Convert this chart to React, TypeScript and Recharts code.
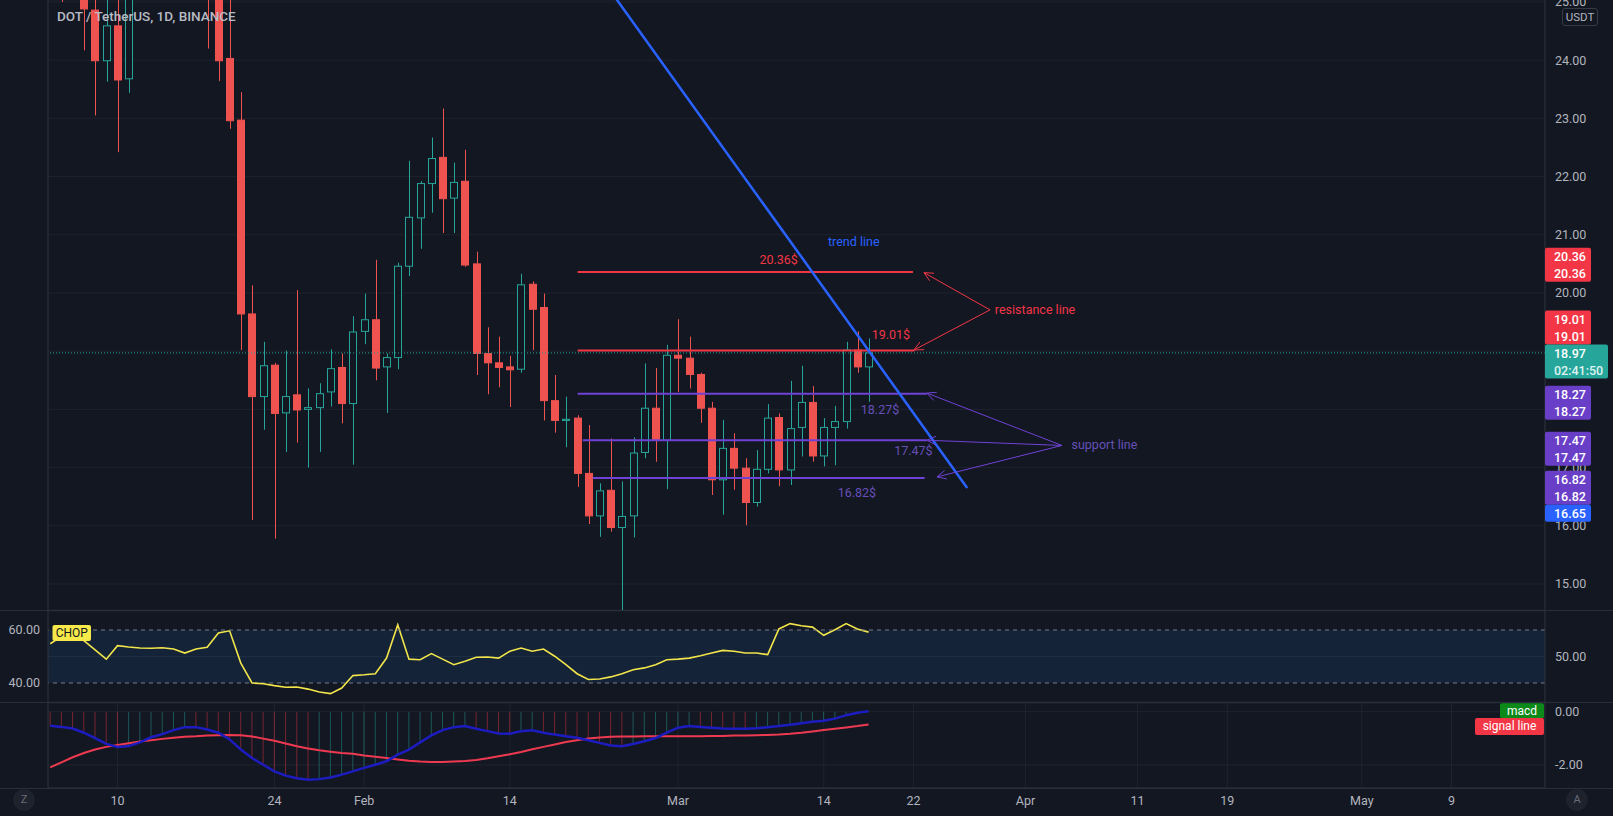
import React from "react";
import {
  ComposedChart,
  Bar,
  Line,
  XAxis,
  YAxis,
  CartesianGrid,
  ReferenceLine,
  ReferenceArea,
  ReferenceDot,
  Cell,
} from "recharts";

// day index: 0 = 1 Jan 2022, first candle is Jan 4 (day 3)
const FIRST_DAY = 3;

const OPEN = [
  28.6, 29.3, 26.9, 26.7, 24.86, 23.99, 24.59, 23.68, 26.1, 28.2,
  26.9, 27.8, 28.0, 27.9, 26.5, 25.9, 24.03, 22.97, 19.64, 18.22,
  18.76, 17.94, 18.25, 18.0, 18.03, 18.3, 18.72, 18.1, 19.34, 19.54,
  18.73, 18.89, 20.46, 21.29, 21.88, 22.33, 21.63, 21.92, 20.5, 18.96,
  18.8, 18.73, 18.69, 20.15, 19.75, 18.15, 17.81, 17.85, 16.9, 16.17,
  16.61, 15.97, 16.17, 17.26, 18.02, 17.47, 18.93, 18.88, 18.6, 18.02,
  16.79, 17.33, 16.99, 16.4, 16.97, 17.86, 16.96, 17.69, 18.12, 17.2,
  17.69, 17.79, 19.02, 18.73,
];
const HIGH = [
  29.8, 29.9, 27.3, 26.9, 25.3, 25.2, 25.25, 26.3, 28.5, 28.9,
  28.1, 28.6, 28.6, 28.0, 26.6, 26.4, 25.3, 23.45, 20.13, 19.16,
  18.8, 19.01, 20.05, 18.36, 18.45, 19.03, 18.96, 19.6, 19.99, 20.57,
  18.96, 20.52, 22.27, 21.92, 22.67, 23.17, 22.24, 22.46, 20.71, 19.41,
  19.25, 18.92, 20.33, 20.2, 19.99, 18.59, 18.22, 17.9, 17.73, 16.73,
  17.5, 16.76, 17.52, 18.79, 18.71, 19.11, 19.55, 19.25, 18.63, 18.13,
  17.82, 17.59, 17.16, 17.3, 18.09, 17.93, 18.49, 18.75, 18.4, 17.85,
  18.06, 19.16, 19.34, 19.22,
];
const LOW = [
  28.1, 25.0, 25.6, 24.17, 23.05, 23.63, 22.42, 23.44, 25.8, 26.6,
  26.2, 27.2, 27.3, 26.1, 24.2, 23.64, 22.82, 19.02, 16.1, 17.65,
  15.78, 17.27, 17.43, 17.0, 17.27, 18.05, 17.76, 17.05, 19.12, 18.5,
  17.94, 18.69, 20.29, 20.76, 21.38, 21.03, 21.03, 20.45, 18.59, 18.26,
  18.38, 18.04, 18.63, 19.02, 17.81, 17.6, 17.35, 16.67, 16.03, 15.81,
  15.9, 14.54, 15.8, 17.16, 17.1, 16.63, 18.3, 18.36, 17.77, 16.53,
  16.19, 16.62, 16.01, 16.33, 16.9, 16.68, 16.7, 17.19, 17.1, 17.02,
  17.04, 17.67, 18.63, 18.13,
];
const CLOSE = [
  29.3, 26.9, 26.7, 24.88, 23.99, 24.59, 23.66, 26.1, 28.2, 26.9,
  27.8, 28.0, 27.9, 26.5, 25.9, 23.99, 22.96, 19.64, 18.22, 18.75,
  17.93, 18.22, 17.99, 18.03, 18.27, 18.7, 18.1, 19.33, 19.54, 18.71,
  18.89, 20.46, 21.3, 21.88, 22.31, 21.62, 21.9, 20.48, 18.96, 18.8,
  18.72, 18.68, 20.14, 19.72, 18.15, 17.81, 17.83, 16.9, 16.17, 16.6,
  15.97, 16.16, 17.25, 18.02, 17.47, 18.93, 18.88, 18.6, 18.02, 16.79,
  17.33, 16.99, 16.4, 16.97, 17.85, 16.96, 17.67, 18.12, 17.2, 17.69,
  17.79, 19.02, 18.73, 18.97,
];
const CHOP = [
  54.8, 57.6, 59, 56, 52.5, 49, 54.1, 53.6, 53.2, 53.1,
  53.3, 52.8, 51.3, 52.8, 53.5, 58.9, 59.7, 47.5, 40, 39.7,
  39, 38.4, 38.5, 37.7, 36.6, 36, 38.1, 42.8, 43.1, 43.5,
  49.4, 62, 49, 48.8, 51.1, 49, 46.9, 48.2, 49.7, 49.8,
  49.4, 52, 53.2, 52, 52.8, 50.1, 46.9, 43.5, 41.3, 41.5,
  42.3, 43.5, 45, 45.7, 46.9, 48.8, 49, 49.4, 50.3, 51.3,
  52.3, 52, 51.3, 51.3, 50.7, 60.4, 62.4, 61.6, 61.1, 58,
  60.1, 62.4, 60.4, 59.2,
];
const MACD = [
  -0.53, -0.57, -0.63, -0.79, -0.99, -1.21, -1.32, -1.29, -1.15, -0.96,
  -0.84, -0.69, -0.58, -0.58, -0.67, -0.79, -1.04, -1.42, -1.74, -1.99,
  -2.24, -2.4, -2.5, -2.55, -2.53, -2.47, -2.36, -2.24, -2.11, -1.99,
  -1.86, -1.61, -1.42, -1.15, -0.89, -0.69, -0.58, -0.54, -0.64, -0.73,
  -0.82, -0.83, -0.73, -0.7, -0.79, -0.86, -0.92, -0.98, -1.07, -1.17,
  -1.27, -1.3, -1.21, -1.11, -0.99, -0.79, -0.6, -0.54, -0.57, -0.6,
  -0.63, -0.64, -0.64, -0.62, -0.58, -0.54, -0.49, -0.43, -0.38, -0.34,
  -0.26, -0.13, -0.04, 0.02,
];
const SIGNAL = [
  -2.09, -1.9, -1.71, -1.55, -1.42, -1.32, -1.25, -1.18, -1.12, -1.07,
  -1.02, -0.98, -0.94, -0.92, -0.89, -0.88, -0.87, -0.88, -0.93, -1.01,
  -1.09, -1.19, -1.3, -1.38, -1.45, -1.5, -1.55, -1.58, -1.64, -1.69,
  -1.74, -1.79, -1.84, -1.87, -1.89, -1.89, -1.87, -1.85, -1.81, -1.75,
  -1.67, -1.6, -1.51, -1.41, -1.32, -1.23, -1.14, -1.07, -1.01, -0.97,
  -0.94, -0.93, -0.93, -0.92, -0.92, -0.92, -0.92, -0.92, -0.92, -0.91,
  -0.91, -0.89, -0.89, -0.88, -0.87, -0.86, -0.83, -0.79, -0.74, -0.69,
  -0.64, -0.59, -0.54, -0.48,
];

const X_TICKS = [9, 23, 31, 44, 59, 72, 80, 90, 100, 108, 120, 128];
const X_LABELS = ["10", "24", "Feb", "14", "Mar", "14", "22", "Apr", "11", "19", "May", "9"];
const PRICE_TICKS = [15, 16, 17, 18, 19, 20, 21, 22, 23, 24, 25];

// drawn levels: [price, fromDay, toDay]
const RESISTANCE = [
  [20.36, 50.05, 79.96],
  [19.01, 50.05, 80.1],
];
const SUPPORT = [
  [18.27, 50.05, 81.2],
  [17.47, 50.5, 81.2],
  [16.82, 51.4, 81.0],
];
const TREND = [
  [53.5, 25.05],
  [84.8, 16.65],
];
// arrows: tail point, then tips
const RES_TAIL = [86.83, 19.71];
const RES_TIPS = [
  [80.94, 20.35],
  [80.05, 19.02],
];
const SUP_TAIL = [93.25, 17.38];
const SUP_TIPS = [
  [81.2, 18.28],
  [81.2, 17.47],
  [82.1, 16.84],
];

const X_DOMAIN = [2.8, 136.34];
const PRICE_DOMAIN = [14.553, 25.034];
const CHOP_DOMAIN = [32.83, 67.17];
const MACD_DOMAIN = [-2.863, 0.326];

const W = 1613;
const BG = "#131722";
const GRID = "#1f232e";
const BORDER = "#2a2e39";
const TEXT = "#b2b5be";
const UP = "#26a69a";
const DOWN = "#ef5350";
const RED = "#f23645";
const PURPLE = "#6f42d6";
const PURPLE_TAG = "#6a3fc8";
const PURPLE_TEXT = "#6650b8";
const BLUE = "#2962ff";
const FONT = "Roboto, 'Liberation Sans', sans-serif";

const rows = OPEN.map((o, i) => ({
  day: FIRST_DAY + i,
  open: o,
  high: HIGH[i],
  low: LOW[i],
  close: CLOSE[i],
  chop: CHOP[i],
  macd: MACD[i],
  signal: SIGNAL[i],
}));

const LAST = CLOSE[CLOSE.length - 1];
const f2 = (v: number) => v.toFixed(2);
const xFmt = (v: number) => X_LABELS[X_TICKS.indexOf(v)] ?? "";

const NOTES = [
  { text: "20.36$", day: 67.98, price: 20.58, color: RED },
  { text: "19.01$", day: 77.99, price: 19.29, color: RED },
  { text: "18.27$", day: 77.02, price: 18.0, color: PURPLE_TEXT },
  { text: "17.47$", day: 80.0, price: 17.29, color: PURPLE_TEXT },
  { text: "16.82$", day: 74.96, price: 16.57, color: PURPLE_TEXT },
  { text: "trend line", day: 74.68, price: 20.88, color: BLUE },
  { text: "resistance line", day: 90.85, price: 19.71, color: RED },
  { text: "support line", day: 97.04, price: 17.39, color: PURPLE_TEXT },
];

const TAGS = [
  { value: RESISTANCE[0][0], lines: [f2(RESISTANCE[0][0]), f2(RESISTANCE[0][0])], color: RED, top: -24.4, w: 46 },
  { value: RESISTANCE[1][0], lines: [f2(RESISTANCE[1][0]), f2(RESISTANCE[1][0])], color: RED, top: -40, w: 46 },
  { value: LAST, lines: [f2(LAST), "02:41:50"], color: UP, top: -8.4, w: 63 },
  { value: SUPPORT[0][0], lines: [f2(SUPPORT[0][0]), f2(SUPPORT[0][0])], color: PURPLE_TAG, top: -7.9, w: 46 },
  { value: SUPPORT[1][0], lines: [f2(SUPPORT[1][0]), f2(SUPPORT[1][0])], color: PURPLE_TAG, top: -8.5, w: 46 },
  { value: SUPPORT[2][0], lines: [f2(SUPPORT[2][0]), f2(SUPPORT[2][0])], color: PURPLE_TAG, top: -7.3, w: 46 },
  { value: TREND[1][1], lines: [f2(TREND[1][1])], color: BLUE, top: 16.8, w: 46 },
];

function Candle(props: any) {
  const { x, y, width, height, payload } = props;
  if (x == null || y == null) return null;
  const top = Math.min(y, y + height);
  const bottom = Math.max(y, y + height);
  const { open, high, low, close } = payload;
  const py = (v: number) => top + ((high - v) / (high - low)) * (bottom - top);
  const up = close >= open;
  const color = up ? UP : DOWN;
  const cx = Math.round(x + width / 2) + 0.5;
  const bTop = py(Math.max(open, close));
  const bBot = py(Math.min(open, close));
  const left = Math.round(x) + 0.5;
  return (
    <g>
      <line x1={cx} x2={cx} y1={top} y2={bTop} stroke={color} />
      <line x1={cx} x2={cx} y1={bBot} y2={bottom} stroke={color} />
      <rect
        x={left}
        y={bTop}
        width={width - 1}
        height={Math.max(1, bBot - bTop)}
        fill={up ? BG : color}
        stroke={color}
      />
    </g>
  );
}

function arrowShape(p: any) {
  const { x1, y1, x2, y2, stroke } = p;
  const a = Math.atan2(y2 - y1, x2 - x1);
  const L = 10;
  const s = 0.45;
  return (
    <g>
      <line x1={x1} y1={y1} x2={x2} y2={y2} stroke={stroke} strokeWidth={1} />
      <line x1={x1} y1={y1} x2={x1 + L * Math.cos(a + s)} y2={y1 + L * Math.sin(a + s)} stroke={stroke} strokeWidth={1} />
      <line x1={x1} y1={y1} x2={x1 + L * Math.cos(a - s)} y2={y1 + L * Math.sin(a - s)} stroke={stroke} strokeWidth={1} />
    </g>
  );
}

function priceTag(tag: (typeof TAGS)[number]) {
  return (p: any) => {
    const vb = p.viewBox;
    if (!vb) return null;
    const x = vb.x + vb.width;
    const y = vb.y + tag.top;
    return (
      <g>
        <rect x={x} y={y} width={tag.w} height={tag.lines.length * 17} fill={tag.color} rx={2} />
        {tag.lines.map((t, i) => (
          <text
            key={i}
            x={x + 9}
            y={y + 9 + i * 17}
            dominantBaseline="central"
            fill={i === 1 && tag.w > 50 ? "#dff3f1" : "#ffffff"}
            fontSize={12.5}
            fontWeight={500}
            fontFamily={FONT}
          >
            {t}
          </text>
        ))}
      </g>
    );
  };
}

function boxTag(text: string, color: string, textColor: string, w: number, h: number, dy: number, alignRight: boolean) {
  return (p: any) => {
    const vb = p.viewBox;
    if (!vb) return null;
    const x = alignRight ? vb.x + vb.width - w - 1 : vb.x + 4.5;
    const y = vb.y + dy;
    return (
      <g>
        <rect x={x} y={y} width={w} height={h} fill={color} rx={2} />
        <text x={x + w / 2} y={y + h / 2} textAnchor="middle" dominantBaseline="central" fill={textColor} fontSize={12} fontFamily={FONT}>
          {text}
        </text>
      </g>
    );
  };
}

const hiddenX = (
  <XAxis
    dataKey="day"
    type="number"
    domain={X_DOMAIN}
    ticks={X_TICKS}
    interval={0}
    allowDataOverflow
    height={0}
    tick={false}
    tickLine={false}
    axisLine={false}
  />
);

function MainChart() {
  return (
    <ComposedChart width={W} height={610} data={rows} margin={{ top: 0, right: 0, bottom: 0, left: 0 }}>
      <CartesianGrid yAxisId="p" stroke={GRID} />
      {hiddenX}
      <YAxis yAxisId="l" orientation="left" width={48} domain={PRICE_DOMAIN} allowDataOverflow tick={false} tickLine={false} axisLine={{ stroke: BORDER }} />
      <YAxis
        yAxisId="p"
        orientation="right"
        width={68}
        domain={PRICE_DOMAIN}
        allowDataOverflow
        ticks={PRICE_TICKS}
        interval={0}
        tickFormatter={f2}
        tick={{ fill: TEXT, fontSize: 12.5, fontFamily: FONT }}
        tickSize={0}
        tickMargin={10}
        tickLine={false}
        axisLine={{ stroke: BORDER }}
      />
      <ReferenceLine yAxisId="p" y={LAST} stroke={UP} strokeDasharray="1 2" />
      <Bar
        yAxisId="p"
        dataKey={(d: any) => [d.low, d.high]}
        barSize={8}
        shape={(p: any) => <Candle {...p} />}
        isAnimationActive={false}
      />
      {RESISTANCE.map(([v, a, b], i) => (
        <ReferenceLine key={"r" + i} yAxisId="p" segment={[{ x: a, y: v }, { x: b, y: v }]} stroke={RED} strokeWidth={2} />
      ))}
      {SUPPORT.map(([v, a, b], i) => (
        <ReferenceLine key={"s" + i} yAxisId="p" segment={[{ x: a, y: v }, { x: b, y: v }]} stroke={PURPLE} strokeWidth={2} />
      ))}
      <ReferenceLine
        yAxisId="p"
        ifOverflow="hidden"
        segment={[{ x: TREND[0][0], y: TREND[0][1] }, { x: TREND[1][0], y: TREND[1][1] }]}
        stroke={BLUE}
        strokeWidth={2.5}
      />
      {RES_TIPS.map(([d, v], i) => (
        <ReferenceLine
          key={"ra" + i}
          yAxisId="p"
          segment={[{ x: d, y: v }, { x: RES_TAIL[0], y: RES_TAIL[1] }]}
          stroke={RED}
          shape={arrowShape}
        />
      ))}
      {SUP_TIPS.map(([d, v], i) => (
        <ReferenceLine
          key={"sa" + i}
          yAxisId="p"
          segment={[{ x: d, y: v }, { x: SUP_TAIL[0], y: SUP_TAIL[1] }]}
          stroke={PURPLE}
          shape={arrowShape}
        />
      ))}
      {NOTES.map((n, i) => (
        <ReferenceDot
          key={"n" + i}
          yAxisId="p"
          x={n.day}
          y={n.price}
          r={0}
          fill="none"
          stroke="none"
          label={{ value: n.text, position: "center", fill: n.color, fontSize: 12.5, fontFamily: FONT }}
        />
      ))}
    </ComposedChart>
  );
}

// price tags sit above the axis labels, so they get their own layer with the same scales
function TagLayer() {
  return (
    <ComposedChart width={W} height={610} data={rows} margin={{ top: 0, right: 0, bottom: 0, left: 0 }}>
      {hiddenX}
      <YAxis yAxisId="l" orientation="left" width={48} domain={PRICE_DOMAIN} allowDataOverflow tick={false} tickLine={false} axisLine={false} />
      <YAxis yAxisId="p" orientation="right" width={68} domain={PRICE_DOMAIN} allowDataOverflow tick={false} tickLine={false} axisLine={false} />
      {TAGS.map((t, i) => (
        <ReferenceLine key={"t" + i} yAxisId="p" y={t.value} stroke="none" ifOverflow="visible" label={priceTag(t)} />
      ))}
    </ComposedChart>
  );
}

function ChopChart() {
  return (
    <ComposedChart width={W} height={91} data={rows} margin={{ top: 0, right: 0, bottom: 0, left: 0 }}>
      <CartesianGrid yAxisId="c" stroke={GRID} />
      {hiddenX}
      <YAxis
        yAxisId="l"
        orientation="left"
        width={48}
        domain={CHOP_DOMAIN}
        allowDataOverflow
        ticks={[40, 60]}
        interval={0}
        tickFormatter={f2}
        tick={{ fill: TEXT, fontSize: 12.5, fontFamily: FONT }}
        tickSize={0}
        tickMargin={8}
        tickLine={false}
        axisLine={{ stroke: BORDER }}
      />
      <YAxis
        yAxisId="c"
        orientation="right"
        width={68}
        domain={CHOP_DOMAIN}
        allowDataOverflow
        ticks={[50]}
        interval={0}
        tickFormatter={f2}
        tick={{ fill: TEXT, fontSize: 12.5, fontFamily: FONT }}
        tickSize={0}
        tickMargin={10}
        tickLine={false}
        axisLine={{ stroke: BORDER }}
      />
      <ReferenceArea yAxisId="c" y1={40} y2={60} fill="rgba(33,150,243,0.1)" fillOpacity={1} stroke="none" />
      <ReferenceLine yAxisId="c" y={40} stroke="#787b86" strokeDasharray="4 4" />
      <Line yAxisId="c" dataKey="chop" stroke="#f2e54b" strokeWidth={1.6} dot={false} isAnimationActive={false} />
      <ReferenceLine
        yAxisId="c"
        y={60}
        stroke="#787b86"
        strokeDasharray="4 4"
        label={boxTag("CHOP", "#f7e94a", "#131722", 38.5, 16, -5, false)}
      />
    </ComposedChart>
  );
}

function MacdChart() {
  return (
    <ComposedChart width={W} height={113} data={rows} margin={{ top: 0, right: 0, bottom: 0, left: 0 }}>
      <CartesianGrid yAxisId="m" stroke={GRID} />
      <XAxis
        dataKey="day"
        type="number"
        domain={X_DOMAIN}
        ticks={X_TICKS}
        interval={0}
        allowDataOverflow
        height={28}
        tickFormatter={xFmt}
        tick={{ fill: TEXT, fontSize: 12.5, fontFamily: FONT }}
        tickSize={0}
        tickMargin={8}
        tickLine={false}
        axisLine={{ stroke: BORDER }}
      />
      <YAxis yAxisId="l" orientation="left" width={48} domain={MACD_DOMAIN} allowDataOverflow tick={false} tickLine={false} axisLine={{ stroke: BORDER }} />
      <YAxis
        yAxisId="m"
        orientation="right"
        width={68}
        domain={MACD_DOMAIN}
        allowDataOverflow
        ticks={[0, -2]}
        interval={0}
        tickFormatter={f2}
        tick={{ fill: TEXT, fontSize: 12.5, fontFamily: FONT }}
        tickSize={0}
        tickMargin={10}
        tickLine={false}
        axisLine={{ stroke: BORDER }}
      />
      <Bar yAxisId="m" dataKey="macd" barSize={1} isAnimationActive={false}>
        {rows.map((r, i) => (
          <Cell
            key={i}
            fill={i > 0 && MACD[i] > MACD[i - 1] ? "rgba(38,166,154,0.45)" : "rgba(242,54,69,0.45)"}
          />
        ))}
      </Bar>
      <Line yAxisId="m" dataKey="signal" stroke="#ee3a50" strokeWidth={2} dot={false} isAnimationActive={false} />
      <Line yAxisId="m" dataKey="macd" stroke="#1c1cc0" strokeWidth={2.5} dot={false} isAnimationActive={false} />
      <ReferenceLine
        yAxisId="m"
        y={MACD[MACD.length - 1]}
        stroke="none"
        label={boxTag("macd", "#0b8a1a", "#ffffff", 44, 15, -8, true)}
      />
      <ReferenceLine
        yAxisId="m"
        y={SIGNAL[SIGNAL.length - 1]}
        stroke="none"
        label={boxTag("signal line", RED, "#ffffff", 69, 17, -6.5, true)}
      />
    </ComposedChart>
  );
}

const circleBtn = (left: number, letter: string) => (
  <div
    style={{
      position: "absolute",
      left: left - 11,
      top: 789,
      width: 22,
      height: 22,
      borderRadius: 11,
      background: "#1e222d",
      color: "#6a6d78",
      fontSize: 11,
      lineHeight: "22px",
      textAlign: "center",
    }}
  >
    {letter}
  </div>
);

const sep = (top: number) => (
  <div style={{ position: "absolute", left: 0, top, width: W, height: 1, background: BORDER }} />
);

export default function App() {
  return (
    <div
      style={{
        position: "absolute",
        left: 0,
        top: 0,
        width: W,
        height: 816,
        background: BG,
        overflow: "hidden",
        fontFamily: FONT,
      }}
    >
      <div style={{ position: "absolute", left: 0, top: 0 }}>
        <MainChart />
      </div>
      <div style={{ position: "absolute", left: 0, top: 0, pointerEvents: "none" }}>
        <TagLayer />
      </div>
      <div style={{ position: "absolute", left: 0, top: 611 }}>
        <ChopChart />
      </div>
      <div style={{ position: "absolute", left: 0, top: 703 }}>
        <MacdChart />
      </div>
      {sep(610)}
      {sep(702)}
      {sep(788)}
      <div
        style={{
          position: "absolute",
          left: 57,
          top: 8,
          fontSize: 13.5,
          fontWeight: 500,
          color: "#b8bbc4",
          whiteSpace: "nowrap",
        }}
      >
        DOT / TetherUS, 1D, BINANCE
      </div>
      <div
        style={{
          position: "absolute",
          left: 1562,
          top: 8,
          width: 34,
          height: 16,
          border: "1px solid #363a45",
          borderRadius: 3,
          background: BG,
          color: TEXT,
          fontSize: 11.5,
          lineHeight: "16px",
          textAlign: "center",
        }}
      >
        USDT
      </div>
      {circleBtn(24, "Z")}
      {circleBtn(1577, "A")}
    </div>
  );
}
